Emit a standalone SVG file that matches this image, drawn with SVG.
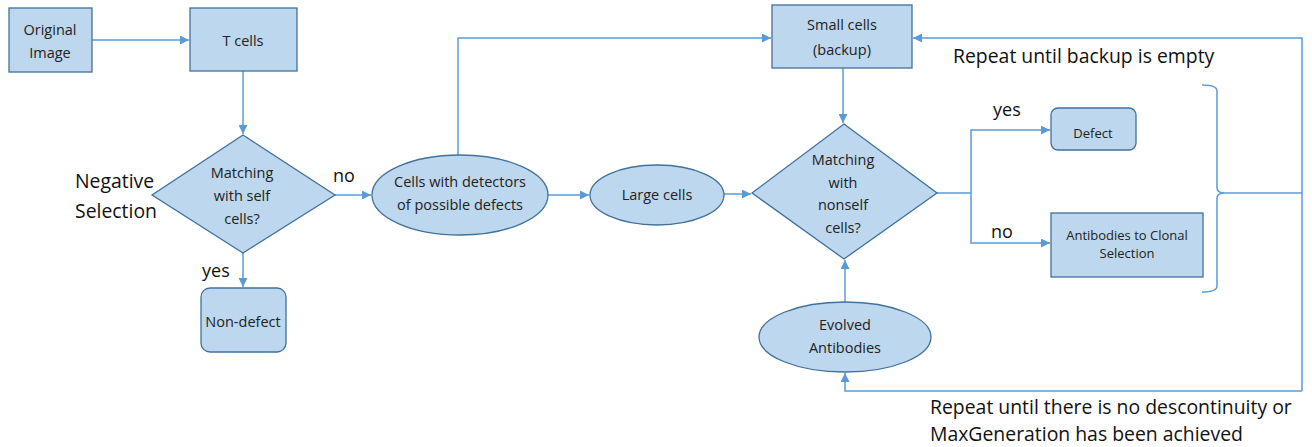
<svg xmlns="http://www.w3.org/2000/svg" width="1312" height="447" viewBox="0 0 1312 447">
<style>
.n{fill:#bdd7ee;stroke:#41719c;stroke-width:1.3}
.t{font-family:"Open Sans","Liberation Sans",sans-serif;fill:#222;text-anchor:middle;font-size:14.5px}
.s{font-size:13px}
.l{font-family:"Open Sans","Liberation Sans",sans-serif;fill:#111}
.c{fill:none;stroke:#5b9bd5;stroke-width:1.5}
</style>
<defs>
<marker id="a" viewBox="0 0 10 10" refX="10" refY="5" markerWidth="9" markerHeight="9" markerUnits="userSpaceOnUse" orient="auto">
<path d="M0,0 L10,5 L0,10 z" fill="#5b9bd5"/>
</marker>
</defs>
<rect width="1312" height="447" fill="#fff"/>
<g id="connectors">
<path class="c" d="M92,40 H189" marker-end="url(#a)"/>
<path class="c" d="M243,71 V134" marker-end="url(#a)"/>
<path class="c" d="M335,195 H371" marker-end="url(#a)"/>
<path class="c" d="M243,253 V287" marker-end="url(#a)"/>
<path class="c" d="M458,155 V38 H771" marker-end="url(#a)"/>
<path class="c" d="M547,195 H589" marker-end="url(#a)"/>
<path class="c" d="M724,194 H751" marker-end="url(#a)"/>
<path class="c" d="M843,68 V123" marker-end="url(#a)"/>
<path class="c" d="M937,193 H971 V130 H1050" marker-end="url(#a)"/>
<path class="c" d="M971,193 V243 H1050" marker-end="url(#a)"/>
<path class="c" d="M1202,85 Q1217,85 1217,91 V188 Q1217,193 1225,193 Q1217,193 1217,198 V286 Q1217,292 1202,292"/>
<path class="c" d="M1225,193 H1302"/>
<path class="c" d="M1302,391 V38 H913" marker-end="url(#a)"/>
<path class="c" d="M1302,391 H845 V373" marker-end="url(#a)"/>
<path class="c" d="M845,302 V260" marker-end="url(#a)"/>
</g>
<g id="original-image">
<rect class="n" x="9" y="8" width="83" height="64"/>
<text class="t"><tspan x="50" y="35">Original</tspan><tspan x="50" y="58">Image</tspan></text>
</g>
<g id="t-cells">
<rect class="n" x="190" y="8" width="107" height="63"/>
<text class="t" x="243" y="46">T cells</text>
</g>
<g id="self-match">
<path class="n" d="M243,135 L335,195 L243,253 L152,195 Z"/>
<text class="t"><tspan x="242" y="178">Matching</tspan><tspan x="242" y="201">with self</tspan><tspan x="242" y="224">cells?</tspan></text>
</g>
<g id="non-defect">
<rect class="n" x="201" y="288" width="85" height="64" rx="9"/>
<text class="t" x="243" y="327">Non-defect</text>
</g>
<g id="detectors">
<ellipse class="n" cx="460" cy="195" rx="88" ry="40"/>
<text class="t"><tspan x="460" y="187">Cells with detectors</tspan><tspan x="460" y="210">of possible defects</tspan></text>
</g>
<g id="large-cells">
<ellipse class="n" cx="657" cy="195" rx="67" ry="30"/>
<text class="t" x="657" y="200">Large cells</text>
</g>
<g id="small-cells">
<rect class="n" x="772" y="5" width="140" height="63"/>
<text class="t"><tspan x="842" y="30">Small cells</tspan><tspan x="842" y="55">(backup)</tspan></text>
</g>
<g id="nonself-match">
<path class="n" d="M844,124 L937,193 L844,259 L752,193 Z"/>
<text class="t"><tspan x="843" y="165">Matching</tspan><tspan x="843" y="188">with</tspan><tspan x="843" y="210">nonself</tspan><tspan x="843" y="233">cells?</tspan></text>
</g>
<g id="defect">
<rect class="n" x="1051" y="108" width="85" height="42" rx="7"/>
<text class="t s" x="1093" y="138">Defect</text>
</g>
<g id="clonal">
<rect class="n" x="1051" y="213" width="152" height="64"/>
<text class="t s"><tspan x="1127" y="240">Antibodies to Clonal</tspan><tspan x="1127" y="258">Selection</tspan></text>
</g>
<g id="evolved">
<ellipse class="n" cx="845" cy="337" rx="86" ry="35"/>
<text class="t"><tspan x="845" y="330">Evolved</tspan><tspan x="845" y="353">Antibodies</tspan></text>
</g>
<g id="labels">
<text class="l" font-size="19.4" x="75" y="188">Negative</text>
<text class="l" font-size="19.4" x="75" y="218">Selection</text>
<text class="l" font-size="18" x="333" y="182">no</text>
<text class="l" font-size="18" x="202" y="277">yes</text>
<text class="l" font-size="18" x="993" y="116">yes</text>
<text class="l" font-size="18" x="991" y="238">no</text>
<text class="l" font-size="19.4" x="953" y="63">Repeat until backup is empty</text>
<text class="l" font-size="19.4" x="930" y="414">Repeat until there is no descontinuity or</text>
<text class="l" font-size="19.4" x="930" y="441">MaxGeneration has been achieved</text>
</g>
</svg>
